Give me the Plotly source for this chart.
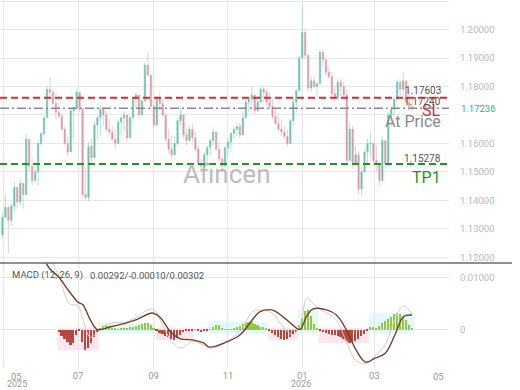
import plotly.graph_objects as go
import pandas as pd

# ---------------- data ----------------
candle_start = "2025-04-30"
candle_end = "2026-04-01"
first_open = 1.1280

high = [1.1354, 1.1424, 1.1382, 1.1389, 1.1466, 1.1452, 1.1476, 1.1431, 1.1634, 1.1616,
        1.1546, 1.1522, 1.1606, 1.1641, 1.1693, 1.1801, 1.1833, 1.1791, 1.1780, 1.1746,
        1.1704, 1.1661, 1.1626, 1.1721, 1.1731, 1.1791, 1.1763, 1.1581, 1.1511, 1.1606,
        1.1616, 1.1676, 1.1697, 1.1731, 1.1728, 1.1714, 1.1686, 1.1661, 1.1651, 1.1686,
        1.1697, 1.1714, 1.1686, 1.1697, 1.1763, 1.1780, 1.1763, 1.1756, 1.1886, 1.1921,
        1.1816, 1.1746, 1.1766, 1.1780, 1.1756, 1.1686, 1.1651, 1.1627, 1.1627, 1.1686,
        1.1731, 1.1686, 1.1651, 1.1662, 1.1669, 1.1641, 1.1592, 1.1546, 1.1571, 1.1592,
        1.1616, 1.1658, 1.1616, 1.1606, 1.1556, 1.1592, 1.1616, 1.1641, 1.1662, 1.1676,
        1.1676, 1.1711, 1.1756, 1.1763, 1.1801, 1.1766, 1.1756, 1.1801, 1.1798, 1.1791,
        1.1780, 1.1756, 1.1721, 1.1697, 1.1686, 1.1662, 1.1651, 1.1686, 1.1756, 1.1791,
        1.1907, 1.2082, 1.2001, 1.1907, 1.1837, 1.1837, 1.1816, 1.1931, 1.1931, 1.1896,
        1.1872, 1.1851, 1.1801, 1.1826, 1.1826, 1.1816, 1.1791, 1.1676, 1.1662, 1.1592,
        1.1571, 1.1522, 1.1581, 1.1616, 1.1641, 1.1606, 1.1592, 1.1536, 1.1627, 1.1592,
        1.1711, 1.1731, 1.1766, 1.1826, 1.1826, 1.1851, 1.1816, 1.1791, 1.1756]

low = [1.1266, 1.1361, 1.1214, 1.1312, 1.1361, 1.1371, 1.1382, 1.1371, 1.1431, 1.1501,
       1.1452, 1.1466, 1.1452, 1.1592, 1.1627, 1.1714, 1.1756, 1.1731, 1.1686, 1.1693,
       1.1644, 1.1592, 1.1556, 1.1616, 1.1616, 1.1721, 1.1711, 1.1406, 1.1399, 1.1396,
       1.1529, 1.1581, 1.1616, 1.1627, 1.1662, 1.1641, 1.1627, 1.1606, 1.1581, 1.1606,
       1.1627, 1.1641, 1.1606, 1.1634, 1.1676, 1.1721, 1.1686, 1.1714, 1.1746, 1.1837,
       1.1721, 1.1651, 1.1721, 1.1714, 1.1693, 1.1606, 1.1564, 1.1546, 1.1556, 1.1592,
       1.1662, 1.1616, 1.1592, 1.1616, 1.1606, 1.1571, 1.1522, 1.1501, 1.1511, 1.1522,
       1.1556, 1.1592, 1.1571, 1.1536, 1.1501, 1.1546, 1.1556, 1.1581, 1.1616, 1.1627,
       1.1616, 1.1641, 1.1686, 1.1711, 1.1731, 1.1704, 1.1711, 1.1756, 1.1746, 1.1731,
       1.1721, 1.1686, 1.1662, 1.1641, 1.1627, 1.1616, 1.1588, 1.1627, 1.1662, 1.1711,
       1.1826, 1.1907, 1.1896, 1.1781, 1.1781, 1.1791, 1.1766, 1.1816, 1.1872, 1.1837,
       1.1826, 1.1766, 1.1746, 1.1756, 1.1766, 1.1756, 1.1522, 1.1571, 1.1511, 1.1522,
       1.1417, 1.1417, 1.1501, 1.1522, 1.1546, 1.1522, 1.1501, 1.1452, 1.1511, 1.1511,
       1.1571, 1.1662, 1.1697, 1.1746, 1.1766, 1.1766, 1.1731, 1.1714, 1.1714]

close = [1.1340, 1.1375, 1.1330, 1.1380, 1.1445, 1.1395, 1.1460, 1.1420, 1.1615, 1.1520,
         1.1470, 1.1500, 1.1600, 1.1635, 1.1690, 1.1790, 1.1780, 1.1740, 1.1710, 1.1695,
         1.1650, 1.1600, 1.1570, 1.1715, 1.1725, 1.1780, 1.1720, 1.1420, 1.1410, 1.1590,
         1.1550, 1.1665, 1.1690, 1.1720, 1.1700, 1.1650, 1.1640, 1.1615, 1.1600, 1.1675,
         1.1690, 1.1700, 1.1620, 1.1690, 1.1755, 1.1770, 1.1700, 1.1750, 1.1875, 1.1840,
         1.1730, 1.1665, 1.1760, 1.1740, 1.1700, 1.1615, 1.1580, 1.1560, 1.1600, 1.1680,
         1.1700, 1.1630, 1.1610, 1.1650, 1.1620, 1.1580, 1.1530, 1.1520, 1.1560, 1.1585,
         1.1610, 1.1640, 1.1580, 1.1545, 1.1520, 1.1585, 1.1605, 1.1635, 1.1650, 1.1660,
         1.1630, 1.1690, 1.1745, 1.1755, 1.1770, 1.1715, 1.1745, 1.1790, 1.1780, 1.1745,
         1.1730, 1.1695, 1.1670, 1.1650, 1.1640, 1.1625, 1.1600, 1.1680, 1.1745, 1.1785,
         1.1900, 1.1990, 1.1910, 1.1795, 1.1820, 1.1800, 1.1810, 1.1920, 1.1895, 1.1850,
         1.1835, 1.1775, 1.1760, 1.1815, 1.1800, 1.1770, 1.1540, 1.1650, 1.1530, 1.1560,
         1.1440, 1.1500, 1.1570, 1.1600, 1.1600, 1.1540, 1.1530, 1.1470, 1.1610, 1.1530,
         1.1700, 1.1720, 1.1755, 1.1815, 1.1790, 1.1820, 1.1745, 1.1730, 1.17236]

# MACD histogram (x 1e-3), one per candle
hist_e3 = [None] * 19 + [
    -0.5, -1.2, -1.8, -2.4, -3.0, -2.6, -1.0, -0.3, -2.5, -4.0,
    -3.6, -2.6, -1.5, -0.4, 0.3, 0.7, 0.9, 0.6, 0.3, 0.2,
    0.1, 0.2, 0.3, 0.2, 0.4, 0.5, 0.6, 0.8, 1.0, 1.2,
    1.3, 0.8, 0.2, -0.3, -0.6, -0.9, -1.2, -1.5, -1.8, -2.0,
    -1.6, -1.0, -0.5, -0.2, -0.3, -0.1, 0.1, -0.2, -0.4, -0.3,
    -0.1, 0.1, 0.5, 0.9, 0.8, 0.3, 0.1, 0.05, 0.1, 0.2,
    0.4, 0.7, 1.0, 1.3, 1.5, 1.4, 1.1, 0.8, 0.5, 0.4,
    0.3, -0.2, -0.6, -1.1, -1.5, -1.8, -2.0, -1.8, -1.4, -0.9,
    -0.4, 0.8, 2.2, 3.5, 3.8, 2.6, 1.0, 0.2, -0.3, -0.4,
    -0.6, -0.8, -1.0, -1.1, -1.2, -1.5, -1.9, -2.3, -2.6, -2.5,
    -2.2, -1.8, -1.3, -0.8, -0.3, 0.5, 0.4, 0.3, 0.6, 1.2,
    1.6, 2.0, 2.5, 3.0, 3.2, 3.0, 2.5, 1.8, 0.8, 0.2]

line_dates = ["2025-06-01", "2025-06-08", "2025-06-15", "2025-06-24", "2025-07-01", "2025-07-05",
              "2025-07-11", "2025-07-17", "2025-07-27", "2025-08-10", "2025-08-18", "2025-08-31",
              "2025-09-07", "2025-09-15", "2025-09-23", "2025-10-03", "2025-10-12", "2025-10-17",
              "2025-10-31", "2025-11-11", "2025-11-21", "2025-11-27", "2025-12-07", "2025-12-16",
              "2025-12-24", "2025-12-30", "2026-01-05", "2026-01-10", "2026-01-21", "2026-01-29",
              "2026-02-06", "2026-02-14", "2026-02-22", "2026-03-02", "2026-03-10", "2026-03-18",
              "2026-03-25", "2026-04-01"]
signal_e3 = [14.5, 11.7, 10.2, 7.3, 5.3, 4.8, 1.9, 0.0, 0.5, 1.3, 1.9, 3.2,
             2.2, -0.5, -1.8, -2.0, -2.6, -3.4, -2.4, -1.0, 1.9, 3.4, 3.8, 2.5,
             0.9, 0.0, 2.8, 4.0, 3.8, 2.8, 0.0, -3.9, -6.3, -5.5, -4.6, -1.0, 2.5, 2.8]
macd_e3 = [15.0, 13.5, 10.5, 5.0, 4.6, 2.0, -1.5, -0.5, 1.2, 1.5, 2.4, 4.0,
           1.6, -2.0, -3.6, -2.3, -3.0, -3.6, -2.3, -0.3, 3.4, 3.8, 3.2, 0.6,
           -1.0, 0.8, 6.2, 5.0, 3.2, 1.8, -2.3, -6.0, -6.6, -5.0, -2.9, 2.0, 4.6, 3.0]

sl_level = 1.17603
price_level = 1.17236
tp_level = 1.15278
sl_label = "1.17603"
price_label = "1.17240"
tp_label = "1.15278"
current_price_text = "1.17236"

month_ticks = ["2025-05-01", "2025-07-01", "2025-09-01", "2025-11-01",
               "2026-01-01", "2026-03-01", "2026-05-01"]
month_labels = ["", "07", "09", "11", "01", "03", ""]
price_ticks = [1.12, 1.13, 1.14, 1.15, 1.16, 1.17, 1.18, 1.19, 1.20, 1.21]
price_tick_text = ["1.12000", "1.13000", "1.14000", "1.15000", "1.16000", "",
                   "1.18000", "1.19000", "1.20000", "1.21000"]
macd_ticks = [0.0, 0.01]
macd_tick_text = ["0", "0.01000"]

# ---------------- derived ----------------
TEAL = "#6cc4b1"
PINK = "#df9aa8"
RED = "#e5262d"
GREEN = "#1f9330"
GRID = "#e7e7e7"
FONT = "Roboto"

dates = pd.date_range(candle_start, candle_end, periods=len(close))
opens = [first_open] + close[:-1]
highs = [max(h, o, c) for h, o, c in zip(high, opens, close)]
lows = [min(l, o, c) for l, o, c in zip(low, opens, close)]
hist = [None if v is None else v * 1e-3 for v in hist_e3]
hist_colors = ["#93c83f" if (v is not None and v >= 0) else "#b9463f" for v in hist]
signal = [v * 1e-3 for v in signal_e3]
macd = [v * 1e-3 for v in macd_e3]
step = (dates[1] - dates[0])

fig = go.Figure()

# shading behind histogram runs
shapes = []
run = []
def flush(run):
    if not run:
        return
    vals = [hist[i] for i in run]
    pos = vals[0] >= 0
    x0 = dates[run[0]] - step / 2
    x1 = dates[run[-1]] + step / 2
    if pos:
        y0, y1, col = -0.0008, max(vals), "#e2fafa"
    else:
        y0, y1, col = min(vals), 0.0004, "#fde7ee"
    shapes.append(dict(type="rect", xref="x2", yref="y2", x0=x0, x1=x1, y0=y0, y1=y1,
                       fillcolor=col, line=dict(width=0), layer="below"))
for i, v in enumerate(hist):
    if v is None:
        flush(run); run = []
        continue
    if run and ((hist[run[-1]] >= 0) != (v >= 0)):
        flush(run); run = []
    run.append(i)
flush(run)

fig.add_trace(go.Candlestick(
    x=dates, open=opens, high=highs, low=lows, close=close,
    increasing=dict(line=dict(color=TEAL, width=0.5), fillcolor=TEAL),
    decreasing=dict(line=dict(color=PINK, width=0.5), fillcolor=PINK),
    whiskerwidth=0, xaxis="x", yaxis="y", showlegend=False, hoverinfo="skip"))

fig.add_trace(go.Bar(x=dates, y=hist, marker=dict(color=hist_colors, line=dict(width=0)),
                     width=step.total_seconds() * 1000 * 0.55,
                     xaxis="x2", yaxis="y2", showlegend=False, hoverinfo="skip"))
fig.add_trace(go.Scatter(x=pd.to_datetime(line_dates), y=macd, mode="lines",
                         line=dict(color="#d3cbc8", width=1, shape="spline"),
                         xaxis="x2", yaxis="y2", showlegend=False, hoverinfo="skip"))
fig.add_trace(go.Scatter(x=pd.to_datetime(line_dates), y=signal, mode="lines",
                         line=dict(color="#6e4330", width=1.4, shape="spline"),
                         xaxis="x2", yaxis="y2", showlegend=False, hoverinfo="skip"))

# level lines
for lvl, col, dash, w in [(sl_level, RED, "7px,4px", 2),
                          (price_level, "#8a8a8a", "9px,3px,2px,3px", 1.5),
                          (tp_level, GREEN, "7px,4px", 2)]:
    shapes.append(dict(type="line", xref="x domain", yref="y", x0=0, x1=1, y0=lvl, y1=lvl,
                       line=dict(color=col, width=w, dash=dash)))

# panel separator
p_bottom = 1 - 263 / 390
m_bottom = 22 / 390
shapes.append(dict(type="line", xref="paper", yref="paper", x0=0, x1=512 / 449,
                   y0=p_bottom, y1=p_bottom, line=dict(color="#6a6a6a", width=1.5)))

lx = 443 / 449
annotations = [
    dict(text=sl_label, x=lx, y=sl_level, yshift=7, font=dict(size=10, color="#555")),
    dict(text="SL", x=lx, y=sl_level, yshift=-13, font=dict(size=16, color=RED)),
    dict(text=price_label, x=lx, y=price_level, yshift=7, font=dict(size=10, color="#555")),
    dict(text="At Price", x=lx, y=price_level, yshift=-13, font=dict(size=16, color="#8a8a8a")),
    dict(text=tp_label, x=lx, y=tp_level, yshift=6, font=dict(size=10, color="#555")),
    dict(text="TP1", x=lx, y=tp_level, yshift=-13, font=dict(size=16, color=GREEN)),
]
for a in annotations:
    a.update(xref="paper", yref="y", xanchor="right", yanchor="middle", showarrow=False)
annotations += [
    dict(text=current_price_text, xref="paper", yref="y", x=1, xshift=10, y=price_level,
         xanchor="left", yanchor="middle", showarrow=False, bgcolor="white",
         font=dict(size=9.5, color="#3aaa98")),
    dict(text="Afincen", xref="paper", yref="paper", x=226 / 449, y=1 - 174 / 390,
         xanchor="center", yanchor="middle", showarrow=False,
         font=dict(size=26, color="rgba(150,150,150,0.65)")),
    dict(text="MACD (12, 26, 9)", xref="paper", yref="paper", x=10 / 449, y=1 - 275 / 390,
         xanchor="left", yanchor="middle", showarrow=False, font=dict(size=9.5, color="#555")),
    dict(text="0.00292/-0.00010/0.00302", xref="paper", yref="paper", x=88 / 449, y=1 - 275 / 390,
         xanchor="left", yanchor="middle", showarrow=False, font=dict(size=9.5, color="#555")),
    dict(text="05", xref="paper", yref="paper", x=16 / 449, y=1 - 376 / 390,
         xanchor="center", yanchor="middle", showarrow=False, font=dict(size=9.5, color="#999")),
    dict(text="2025", xref="paper", yref="paper", x=17 / 449, y=1 - 384 / 390,
         xanchor="center", yanchor="middle", showarrow=False, font=dict(size=9, color="#999")),
    dict(text="2026", xref="paper", yref="paper", x=301 / 449, y=1 - 384 / 390,
         xanchor="center", yanchor="middle", showarrow=False, font=dict(size=9, color="#999")),
    dict(text="05", xref="paper", yref="paper", x=438 / 449, y=1 - 376 / 390,
         xanchor="center", yanchor="middle", showarrow=False, font=dict(size=9.5, color="#999")),
]

x_range = ["2025-04-28", "2026-05-01 08:00"]
fig.update_layout(
    width=520, height=390, margin=dict(l=0, r=71, t=0, b=0),
    paper_bgcolor="white", plot_bgcolor="white",
    font=dict(family=FONT), showlegend=False, bargap=0,
    shapes=shapes, annotations=annotations,
    xaxis=dict(domain=[0, 1], anchor="y", type="date", range=x_range,
               tickvals=month_ticks, showticklabels=False, showgrid=True, gridcolor=GRID,
               zeroline=False, showline=False, rangeslider=dict(visible=False), ticks=""),
    xaxis2=dict(domain=[0, 1], anchor="y2", type="date", range=x_range, matches="x",
                tickvals=month_ticks, ticktext=month_labels, showgrid=True, gridcolor=GRID,
                tickfont=dict(size=9.5, color="#999"), ticks="", zeroline=False, showline=False),
    yaxis=dict(domain=[p_bottom, 1], anchor="x", side="right", range=[1.1180, 1.2104],
               tickvals=price_ticks, ticktext=price_tick_text, showgrid=True, gridcolor=GRID,
               tickfont=dict(size=9.5, color="#b8b8b8"), ticks="", zeroline=False,
               ticklabelstandoff=10),
    yaxis2=dict(domain=[m_bottom, p_bottom], anchor="x2", side="right",
                range=[-0.00744, 0.01287], tickvals=macd_ticks, ticktext=macd_tick_text,
                showgrid=True, gridcolor=GRID, tickfont=dict(size=9.5, color="#b8b8b8"),
                ticks="", zeroline=False, ticklabelstandoff=10),
)

fig.write_html("out.html")
